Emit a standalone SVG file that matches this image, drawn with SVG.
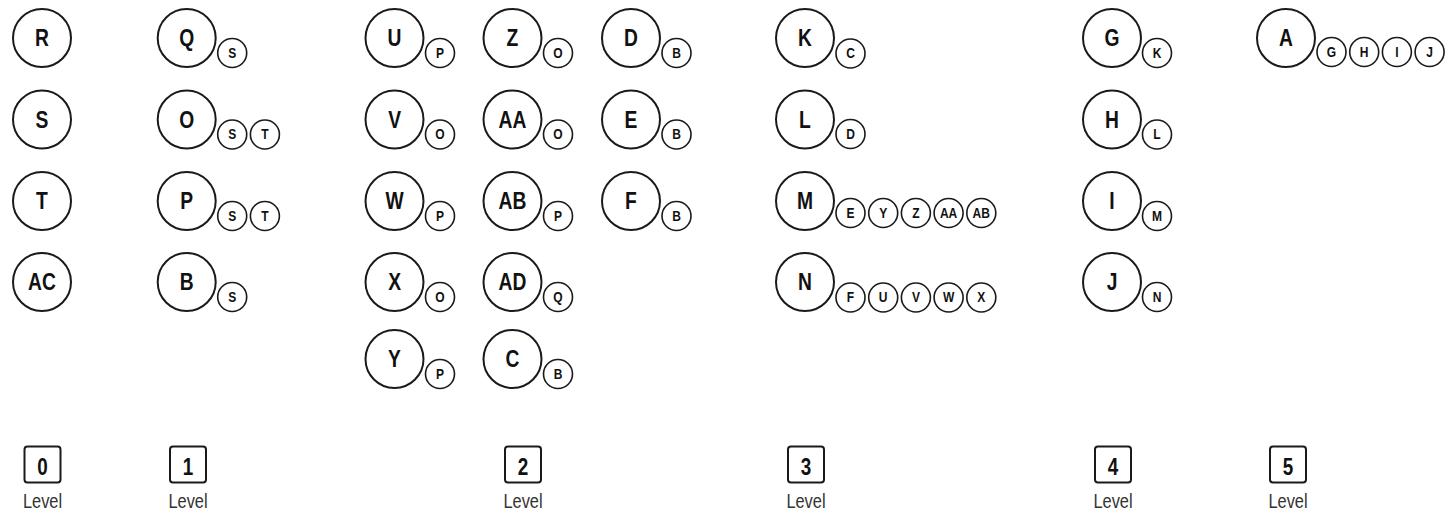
<svg xmlns="http://www.w3.org/2000/svg" width="1452" height="516" viewBox="0 0 1452 516">
<style>
.big{fill:#fff;stroke:#1a1a1a;stroke-width:2}
.sm{fill:#fff;stroke:#1a1a1a;stroke-width:1.6}
text{font-family:"Liberation Sans",Arial,sans-serif;text-anchor:middle;transform:scaleX(.82);transform-box:fill-box;transform-origin:center}
.bt{font-weight:bold;font-size:23.5px;fill:#111}
.st{font-weight:bold;font-size:14px;fill:#111;transform:scaleX(.86)}
.box{fill:#fff;stroke:#1a1a1a;stroke-width:2}
.num{font-weight:bold;font-size:23px;fill:#111}
.lvl{font-size:20px;fill:#333}
</style>
<rect width="1452" height="516" fill="#fff"/>
<g id="connectors"/>

<!-- Level 0 -->
<g id="node-R"><circle class="big" cx="42" cy="38" r="29"/><text class="bt" x="42" y="46.5">R</text></g>
<g id="node-S"><circle class="big" cx="42" cy="119.5" r="29"/><text class="bt" x="42" y="128">S</text></g>
<g id="node-T"><circle class="big" cx="42" cy="201" r="29"/><text class="bt" x="42" y="209.5">T</text></g>
<g id="node-AC"><circle class="big" cx="42" cy="282" r="29"/><text class="bt" x="42" y="290.5">AC</text></g>

<!-- Level 1 -->
<g id="node-Q"><circle class="big" cx="186.7" cy="38" r="29"/><text class="bt" x="186.7" y="46.5">Q</text>
 <circle class="sm" cx="232.2" cy="53" r="14.5"/><text class="st" x="232.2" y="58">S</text></g>
<g id="node-O"><circle class="big" cx="186.7" cy="119.5" r="29"/><text class="bt" x="186.7" y="128">O</text>
 <circle class="sm" cx="232.2" cy="134.5" r="14.5"/><text class="st" x="232.2" y="139.5">S</text>
 <circle class="sm" cx="264.9" cy="134.5" r="14.5"/><text class="st" x="264.9" y="139.5">T</text></g>
<g id="node-P"><circle class="big" cx="186.7" cy="201" r="29"/><text class="bt" x="186.7" y="209.5">P</text>
 <circle class="sm" cx="232.2" cy="216" r="14.5"/><text class="st" x="232.2" y="221">S</text>
 <circle class="sm" cx="264.9" cy="216" r="14.5"/><text class="st" x="264.9" y="221">T</text></g>
<g id="node-B"><circle class="big" cx="186.7" cy="282" r="29"/><text class="bt" x="186.7" y="290.5">B</text>
 <circle class="sm" cx="232.2" cy="297" r="14.5"/><text class="st" x="232.2" y="302">S</text></g>

<!-- Level 2 -->
<g id="node-U"><circle class="big" cx="394.5" cy="38" r="29"/><text class="bt" x="394.5" y="46.5">U</text>
 <circle class="sm" cx="440" cy="53" r="14.5"/><text class="st" x="440" y="58">P</text></g>
<g id="node-V"><circle class="big" cx="394.5" cy="119.5" r="29"/><text class="bt" x="394.5" y="128">V</text>
 <circle class="sm" cx="440" cy="134.5" r="14.5"/><text class="st" x="440" y="139.5">O</text></g>
<g id="node-W"><circle class="big" cx="394.5" cy="201" r="29"/><text class="bt" x="394.5" y="209.5">W</text>
 <circle class="sm" cx="440" cy="216" r="14.5"/><text class="st" x="440" y="221">P</text></g>
<g id="node-X"><circle class="big" cx="394.5" cy="282" r="29"/><text class="bt" x="394.5" y="290.5">X</text>
 <circle class="sm" cx="440" cy="297" r="14.5"/><text class="st" x="440" y="302">O</text></g>
<g id="node-Y"><circle class="big" cx="394.5" cy="359" r="29"/><text class="bt" x="394.5" y="367.5">Y</text>
 <circle class="sm" cx="440" cy="374" r="14.5"/><text class="st" x="440" y="379">P</text></g>

<g id="node-Z"><circle class="big" cx="512.5" cy="38" r="29"/><text class="bt" x="512.5" y="46.5">Z</text>
 <circle class="sm" cx="558" cy="53" r="14.5"/><text class="st" x="558" y="58">O</text></g>
<g id="node-AA"><circle class="big" cx="512.5" cy="119.5" r="29"/><text class="bt" x="512.5" y="128">AA</text>
 <circle class="sm" cx="558" cy="134.5" r="14.5"/><text class="st" x="558" y="139.5">O</text></g>
<g id="node-AB"><circle class="big" cx="512.5" cy="201" r="29"/><text class="bt" x="512.5" y="209.5">AB</text>
 <circle class="sm" cx="558" cy="216" r="14.5"/><text class="st" x="558" y="221">P</text></g>
<g id="node-AD"><circle class="big" cx="512.5" cy="282" r="29"/><text class="bt" x="512.5" y="290.5">AD</text>
 <circle class="sm" cx="558" cy="297" r="14.5"/><text class="st" x="558" y="302">Q</text></g>
<g id="node-C"><circle class="big" cx="512.5" cy="359" r="29"/><text class="bt" x="512.5" y="367.5">C</text>
 <circle class="sm" cx="558" cy="374" r="14.5"/><text class="st" x="558" y="379">B</text></g>

<g id="node-D"><circle class="big" cx="631" cy="38" r="29"/><text class="bt" x="631" y="46.5">D</text>
 <circle class="sm" cx="676.5" cy="53" r="14.5"/><text class="st" x="676.5" y="58">B</text></g>
<g id="node-E"><circle class="big" cx="631" cy="119.5" r="29"/><text class="bt" x="631" y="128">E</text>
 <circle class="sm" cx="676.5" cy="134.5" r="14.5"/><text class="st" x="676.5" y="139.5">B</text></g>
<g id="node-F"><circle class="big" cx="631" cy="201" r="29"/><text class="bt" x="631" y="209.5">F</text>
 <circle class="sm" cx="676.5" cy="216" r="14.5"/><text class="st" x="676.5" y="221">B</text></g>

<!-- Level 3 -->
<g id="node-K"><circle class="big" cx="805" cy="38" r="29"/><text class="bt" x="805" y="46.5">K</text>
 <circle class="sm" cx="850.5" cy="53.5" r="14.5"/><text class="st" x="850.5" y="58.5">C</text></g>
<g id="node-L"><circle class="big" cx="805" cy="119.5" r="29"/><text class="bt" x="805" y="128">L</text>
 <circle class="sm" cx="850.5" cy="134" r="14.5"/><text class="st" x="850.5" y="139">D</text></g>
<g id="node-M"><circle class="big" cx="805" cy="201" r="29"/><text class="bt" x="805" y="209.5">M</text>
 <circle class="sm" cx="850.5" cy="213" r="14.5"/><text class="st" x="850.5" y="218">E</text>
 <circle class="sm" cx="883.2" cy="213" r="14.5"/><text class="st" x="883.2" y="218">Y</text>
 <circle class="sm" cx="915.9" cy="213" r="14.5"/><text class="st" x="915.9" y="218">Z</text>
 <circle class="sm" cx="948.6" cy="213" r="14.5"/><text class="st" x="948.6" y="218">AA</text>
 <circle class="sm" cx="981.3" cy="213" r="14.5"/><text class="st" x="981.3" y="218">AB</text></g>
<g id="node-N"><circle class="big" cx="805" cy="282" r="29"/><text class="bt" x="805" y="290.5">N</text>
 <circle class="sm" cx="850.5" cy="297.5" r="14.5"/><text class="st" x="850.5" y="302.5">F</text>
 <circle class="sm" cx="883.2" cy="297.5" r="14.5"/><text class="st" x="883.2" y="302.5">U</text>
 <circle class="sm" cx="915.9" cy="297.5" r="14.5"/><text class="st" x="915.9" y="302.5">V</text>
 <circle class="sm" cx="948.6" cy="297.5" r="14.5"/><text class="st" x="948.6" y="302.5">W</text>
 <circle class="sm" cx="981.3" cy="297.5" r="14.5"/><text class="st" x="981.3" y="302.5">X</text></g>

<!-- Level 4 -->
<g id="node-G"><circle class="big" cx="1112" cy="38" r="29"/><text class="bt" x="1112" y="46.5">G</text>
 <circle class="sm" cx="1157" cy="53" r="14.5"/><text class="st" x="1157" y="58">K</text></g>
<g id="node-H"><circle class="big" cx="1112" cy="119.5" r="29"/><text class="bt" x="1112" y="128">H</text>
 <circle class="sm" cx="1157" cy="134.5" r="14.5"/><text class="st" x="1157" y="139.5">L</text></g>
<g id="node-I"><circle class="big" cx="1112" cy="201" r="29"/><text class="bt" x="1112" y="209.5">I</text>
 <circle class="sm" cx="1157" cy="216" r="14.5"/><text class="st" x="1157" y="221">M</text></g>
<g id="node-J"><circle class="big" cx="1112" cy="282" r="29"/><text class="bt" x="1112" y="290.5">J</text>
 <circle class="sm" cx="1157" cy="297" r="14.5"/><text class="st" x="1157" y="302">N</text></g>

<!-- Level 5 -->
<g id="node-A"><circle class="big" cx="1286" cy="38" r="29"/><text class="bt" x="1286" y="46.5">A</text>
 <circle class="sm" cx="1331.5" cy="52" r="14.5"/><text class="st" x="1331.5" y="57">G</text>
 <circle class="sm" cx="1364.2" cy="52" r="14.5"/><text class="st" x="1364.2" y="57">H</text>
 <circle class="sm" cx="1396.9" cy="52" r="14.5"/><text class="st" x="1396.9" y="57">I</text>
 <circle class="sm" cx="1429.6" cy="52" r="14.5"/><text class="st" x="1429.6" y="57">J</text></g>

<!-- Level legend -->
<g id="level-0"><rect class="box" x="24.5" y="446.5" width="36" height="36" rx="3"/><text class="num" x="42.5" y="475">0</text><text class="lvl" x="42.5" y="508">Level</text></g>
<g id="level-1"><rect class="box" x="170" y="446.5" width="36" height="36" rx="3"/><text class="num" x="188" y="475">1</text><text class="lvl" x="188" y="508">Level</text></g>
<g id="level-2"><rect class="box" x="505" y="446.5" width="36" height="36" rx="3"/><text class="num" x="523" y="475">2</text><text class="lvl" x="523" y="508">Level</text></g>
<g id="level-3"><rect class="box" x="788" y="446.5" width="36" height="36" rx="3"/><text class="num" x="806" y="475">3</text><text class="lvl" x="806" y="508">Level</text></g>
<g id="level-4"><rect class="box" x="1095" y="446.5" width="36" height="36" rx="3"/><text class="num" x="1113" y="475">4</text><text class="lvl" x="1113" y="508">Level</text></g>
<g id="level-5"><rect class="box" x="1270" y="446.5" width="36" height="36" rx="3"/><text class="num" x="1288" y="475">5</text><text class="lvl" x="1288" y="508">Level</text></g>
</svg>
